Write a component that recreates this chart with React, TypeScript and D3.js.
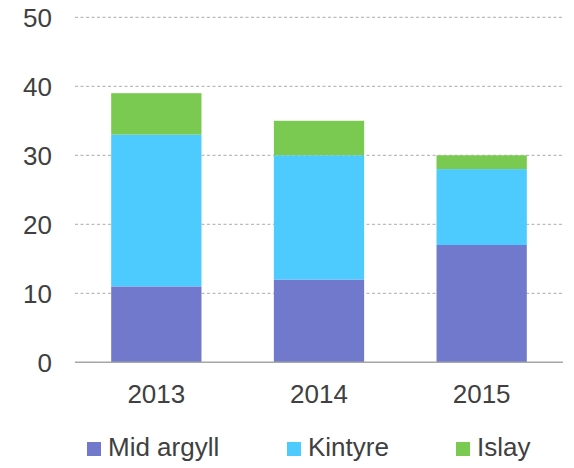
import React from "react";
import * as d3 from "d3";

const years = ["2013", "2014", "2015"];
const seriesNames = ["Mid argyll", "Kintyre", "Islay"];
const midArgyll = [11, 12, 17];
const kintyre = [22, 18, 11];
const islay = [6, 5, 2];
const yTicks = [0, 10, 20, 30, 40, 50];
const colors = ["#7079CB", "#4DCBFF", "#7AC951"];

const W = 574;
const H = 468;
const FONT = "'Liberation Sans', Arial, sans-serif";

export default function App() {
  const x = d3.scaleBand<string>().domain(years).range([75, 563]).paddingInner(0.445).paddingOuter(0.2225);
  const y = d3.scaleLinear().domain([0, 50]).range([362.3, 17.3]);

  const rows = years.map((yr, i) => ({ year: yr, "Mid argyll": midArgyll[i], Kintyre: kintyre[i], Islay: islay[i] }));
  const stacked = d3.stack<any>().keys(seriesNames)(rows);

  const legendX = [87, 287, 456];

  return (
    <div style={{ position: "absolute", left: 0, top: 0 }}>
      <svg width={W} height={H} style={{ display: "block" }}>
        <rect width={W} height={H} fill="#fff" />
        {yTicks.filter((t) => t > 0).map((t) => (
          <line key={t} x1={75} x2={563} y1={y(t)} y2={y(t)} stroke="#ABABAB" strokeWidth={1} strokeDasharray="3,2.5" />
        ))}
        {stacked.map((s, si) =>
          s.map((d, i) => (
            <rect
              key={si + "-" + i}
              x={x(years[i])}
              width={x.bandwidth()}
              y={y(d[1])}
              height={y(d[0]) - y(d[1])}
              fill={colors[si]}
              fillOpacity={1}
            />
          ))
        )}
        <line x1={75} x2={563} y1={y(0)} y2={y(0)} stroke="#A6A6A6" strokeWidth={1.5} />
        {yTicks.map((t) => (
          <text key={t} x={52} y={y(t)} dy="0.36em" textAnchor="end" fontFamily={FONT} fontSize={26} fill="#404040">
            {t}
          </text>
        ))}
        {years.map((yr) => (
          <text key={yr} x={(x(yr) as number) + x.bandwidth() / 2} y={403.3} textAnchor="middle" fontFamily={FONT} fontSize={26} fill="#404040">
            {yr}
          </text>
        ))}
        {seriesNames.map((n, i) => (
          <g key={n}>
            <rect x={legendX[i]} y={442} width={14} height={14} fill={colors[i]} />
            <text x={legendX[i] + 21} y={456} fontFamily={FONT} fontSize={26} fill="#404040">
              {n}
            </text>
          </g>
        ))}
      </svg>
    </div>
  );
}
